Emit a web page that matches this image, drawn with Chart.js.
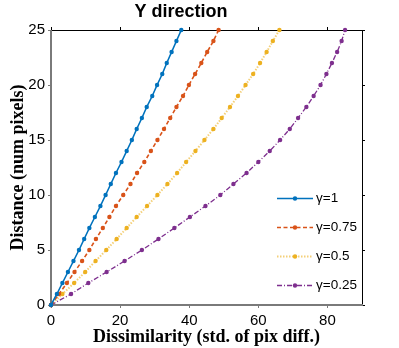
<!DOCTYPE html>
<html>
<head>
<meta charset="utf-8">
<script src="https://cdn.jsdelivr.net/npm/chart.js@4"></script>
<style>
    body { margin: 0; background: #fff; }
    canvas { display: block; }
</style>
</head>
<body>
<canvas id="y-direction-chart" width="399" height="348"></canvas>
<script>
// Distance values (y axis), one marker per pixel
let distance = [0, 1, 2, 3, 4, 5, 6, 7, 8, 9, 10, 11, 12, 13, 14, 15, 16, 17, 18, 19, 20, 21, 22, 23, 24, 25];

// Dissimilarity for each gamma
let gamma1 = [0, 1.7, 3.3, 4.9, 6.5, 8.1, 9.6, 11.1, 12.7, 14.3, 15.8, 17.3, 18.8, 20.4, 21.9, 23.4, 24.8, 26.3, 27.7, 29.3, 30.7, 32.2, 33.5, 34.9, 36.3, 37.7];
let gamma075 = [0, 2.3, 4.6, 6.8, 9.0, 11.1, 13.0, 15.0, 16.9, 18.8, 20.9, 23.0, 24.9, 27.0, 28.9, 30.8, 32.7, 34.5, 36.3, 38.2, 39.9, 41.7, 43.5, 45.2, 47.0, 48.5];
let gamma05 = [0, 3.3, 6.7, 9.9, 12.9, 16.0, 19.0, 21.9, 24.8, 27.8, 30.8, 33.7, 36.5, 39.1, 41.8, 44.4, 47.0, 49.4, 51.8, 54.1, 56.3, 58.5, 60.5, 62.4, 64.2, 66.1];
let gamma025 = [0, 5.8, 10.8, 16.1, 21.3, 26.3, 31.1, 35.7, 40.2, 44.7, 49.0, 52.8, 56.6, 60.0, 63.3, 66.3, 69.1, 71.5, 73.9, 76.0, 78.0, 79.7, 81.3, 82.8, 84.1, 85.1];

// Legend labels
let seriesLabels = ["γ=1", "γ=0.75", "γ=0.5", "γ=0.25"];

// Tick labels
let xTicks = [0, 20, 40, 60, 80];
let yTicks = [0, 5, 10, 15, 20, 25];

const sansFont = "'Liberation Sans', Arial, Helvetica, sans-serif";
const serifFont = "'Liberation Serif', 'Times New Roman', serif";

function toPoints(xs) {
    return xs.map((x, i) => ({ x: x, y: distance[i] }));
}

function makeDataset(label, values, colour, lineColour, dash, width) {
    return {
        label: label,
        data: toPoints(values),
        showLine: true,
        borderColor: lineColour,
        borderWidth: width,
        borderDash: dash,
        backgroundColor: colour,
        pointBackgroundColor: colour,
        pointBorderColor: colour,
        pointRadius: 2.2,
        pointBorderWidth: 0,
        clip: false,
    };
}

// Box round the plot with small ticks pointing out (MATLAB style)
const framePlugin = {
    id: "frame",
    beforeDatasetsDraw(chart) {
        const ctx = chart.ctx;
        const a = chart.chartArea;
        const xs = chart.scales.x;
        const ys = chart.scales.y;
        const tl = 3;
        ctx.save();
        // top and right
        ctx.strokeStyle = "#000";
        ctx.lineWidth = 1;
        ctx.beginPath();
        ctx.moveTo(a.left, a.top + 0.5);
        ctx.lineTo(a.right, a.top + 0.5);
        ctx.moveTo(a.right + 0.5, a.top);
        ctx.lineTo(a.right + 0.5, a.bottom);
        for (const v of xTicks) {
            const px = Math.round(xs.getPixelForValue(v)) + 0.5;
            ctx.moveTo(px, a.top);
            ctx.lineTo(px, a.top - tl);
        }
        for (const v of yTicks) {
            const py = Math.round(ys.getPixelForValue(v)) + 0.5;
            ctx.moveTo(a.right, py);
            ctx.lineTo(a.right + tl, py);
        }
        ctx.stroke();
        // left and bottom
        ctx.strokeStyle = "#7a7a7a";
        ctx.beginPath();
        for (const v of xTicks) {
            const px = Math.round(xs.getPixelForValue(v)) + 0.5;
            ctx.moveTo(px, a.bottom);
            ctx.lineTo(px, a.bottom + tl);
        }
        for (const v of yTicks) {
            const py = Math.round(ys.getPixelForValue(v)) + 0.5;
            ctx.moveTo(a.left, py);
            ctx.lineTo(a.left - tl, py);
        }
        ctx.stroke();
        ctx.lineWidth = 2;
        ctx.beginPath();
        ctx.moveTo(a.left, a.top);
        ctx.lineTo(a.left, a.bottom);
        ctx.lineTo(a.right + 1, a.bottom);
        ctx.stroke();
        ctx.restore();
    }
};

// Legend drawn inside the plot, lower right, without a box
const legendPlugin = {
    id: "insideLegend",
    afterDatasetsDraw(chart) {
        const ctx = chart.ctx;
        const a = chart.chartArea;
        const sets = chart.data.datasets;
        const x0 = a.right - 85;
        const x1 = x0 + 36;
        ctx.save();
        for (let i = 0; i < sets.length; i++) {
            const ds = sets[i];
            const y = Math.round(a.bottom - 20 - (sets.length - 1 - i) * 29) + 0.5;
            ctx.strokeStyle = ds.borderColor;
            ctx.lineWidth = ds.borderWidth;
            ctx.setLineDash(ds.borderDash);
            ctx.beginPath();
            ctx.moveTo(x0, y);
            ctx.lineTo(x1, y);
            ctx.stroke();
            ctx.setLineDash([]);
            ctx.fillStyle = ds.pointBackgroundColor;
            ctx.beginPath();
            ctx.arc((x0 + x1) / 2, y, 2.2, 0, Math.PI * 2);
            ctx.fill();
            ctx.fillStyle = "#000";
            ctx.font = "13.5px " + sansFont;
            ctx.textBaseline = "middle";
            ctx.textAlign = "left";
            ctx.fillText(ds.label, x1 + 3, y);
        }
        ctx.restore();
    }
};

function loadChart() {
    new Chart("y-direction-chart", {
        type: "scatter",
        data: {
            datasets: [
                makeDataset(seriesLabels[0], gamma1, "#0072BD", "#0072BD", [], 1.6),
                makeDataset(seriesLabels[1], gamma075, "#D95319", "#D95319", [4, 2.5], 1.6),
                makeDataset(seriesLabels[2], gamma05, "#EDB120", "rgba(237,177,32,0.6)", [1.5, 1.5], 2),
                makeDataset(seriesLabels[3], gamma025, "#7E2F8E", "#7E2F8E", [5, 2, 1, 2], 1.3),
            ]
        },
        plugins: [framePlugin, legendPlugin],
        options: {
            responsive: false,
            animation: false,
            layout: {
                padding: { left: 0, right: 37, top: 0, bottom: 0 }
            },
            plugins: {
                legend: { display: false },
                tooltip: { enabled: false },
                title: {
                    display: true,
                    text: "Y direction",
                    color: "#000",
                    font: { family: sansFont, size: 18, weight: "bold" },
                    padding: { top: 1.3, bottom: 7.1 },
                },
            },
            scales: {
                x: {
                    type: "linear",
                    min: 0,
                    max: 90,
                    grid: { display: false, drawTicks: false },
                    border: { display: false },
                    afterBuildTicks: (scale) => { scale.ticks = xTicks.map(v => ({ value: v })); },
                    afterFit: (scale) => { scale.height = 43; },
                    ticks: {
                        color: "#000",
                        padding: 7,
                        maxRotation: 0,
                        font: { family: sansFont, size: 15 },
                    },
                    title: {
                        display: true,
                        text: "Dissimilarity (std. of pix diff.)",
                        color: "#000",
                        font: { family: serifFont, size: 18, weight: "bold" },
                        padding: { top: 0, bottom: 0 },
                    },
                },
                y: {
                    type: "linear",
                    min: 0,
                    max: 25,
                    grid: { display: false, drawTicks: false },
                    border: { display: false },
                    afterBuildTicks: (scale) => { scale.ticks = yTicks.map(v => ({ value: v })); },
                    afterFit: (scale) => { scale.width = 51; },
                    ticks: {
                        color: "#000",
                        padding: 6,
                        font: { family: sansFont, size: 15 },
                    },
                    title: {
                        display: true,
                        text: "Distance (num pixels)",
                        color: "#000",
                        font: { family: serifFont, size: 18, weight: "bold" },
                        padding: { top: 7.5, bottom: 0 },
                    },
                },
            },
        }
    });
}

loadChart();
</script>
</body>
</html>
